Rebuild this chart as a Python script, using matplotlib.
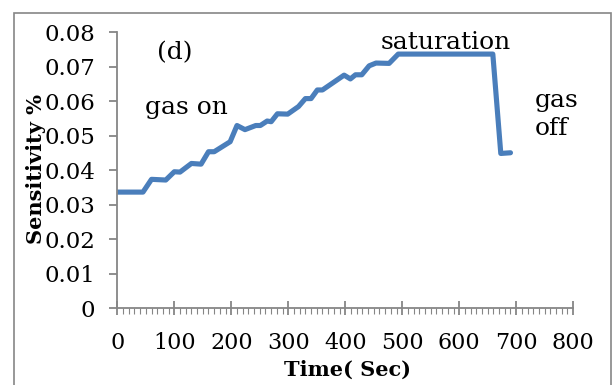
import matplotlib.pyplot as plt
from matplotlib.patches import Rectangle
from matplotlib.ticker import MultipleLocator

# time (s) and sensitivity (%)
time_sec = [0, 45, 60, 85, 100, 110, 130, 147, 160, 170, 198, 210, 224, 243, 251,
            263, 270, 281, 299, 318, 330, 340, 351, 360, 398, 409, 418, 429, 442,
            454, 477, 493, 659, 673, 690]
sensitivity = [0.0337, 0.0337, 0.0374, 0.0372, 0.0396, 0.0395, 0.0420, 0.0418,
               0.0454, 0.0454, 0.0483, 0.0530, 0.0518, 0.0530, 0.0530, 0.0543,
               0.0541, 0.0564, 0.0563, 0.0585, 0.0608, 0.0608, 0.0633, 0.0633,
               0.0676, 0.0665, 0.0677, 0.0677, 0.0703, 0.0711, 0.0710, 0.0737,
               0.0737, 0.0449, 0.0451]
y_ticks = [0, 0.01, 0.02, 0.03, 0.04, 0.05, 0.06, 0.07, 0.08]
y_labels = ['0', '0.01', '0.02', '0.03', '0.04', '0.05', '0.06', '0.07', '0.08']

plt.rcParams['font.family'] = ['DejaVu Serif']
grey = '#868686'

fig = plt.figure(figsize=(6.13, 3.85), dpi=100)
ax = fig.add_axes([0.1914, 0.199, 0.7436, 0.717])

# outer chart border
fig.patches.append(Rectangle((14 / 613, -0.05), 597 / 613, 1 - 13 / 385 + 0.05,
                             transform=fig.transFigure, fill=False,
                             edgecolor=grey, linewidth=1.2))

ax.plot(time_sec, sensitivity, color='#4a7ebb', linewidth=3.7,
        solid_joinstyle='round', solid_capstyle='round')

ax.set_xlim(0, 800)
ax.set_ylim(0, 0.08)
ax.xaxis.set_major_locator(MultipleLocator(100))
ax.xaxis.set_minor_locator(MultipleLocator(10))
ax.set_yticks(y_ticks)
ax.set_yticklabels(y_labels)

for s in ['top', 'right']:
    ax.spines[s].set_visible(False)
for s in ['left', 'bottom']:
    ax.spines[s].set_color(grey)
    ax.spines[s].set_linewidth(1.3)

ax.tick_params(axis='x', which='major', direction='inout', length=10, width=1.3,
               color=grey, labelsize=16, pad=12)
ax.tick_params(axis='x', which='minor', direction='out', length=4, width=0.8, color=grey)
ax.tick_params(axis='y', which='major', direction='out', length=6, width=1.3,
               color=grey, labelsize=16.5, pad=10)

ax.set_xlabel('Time( Sec)', fontsize=15, fontweight='bold', va='center')
ax.xaxis.set_label_coords(0.504, -0.224)
ax.set_ylabel('Sensitivity %', fontsize=15, fontweight='bold', va='center')
ax.yaxis.set_label_coords(-0.178, 0.505)

ax.text(100, 0.074, '(d)', fontsize=18, ha='center', va='center')
ax.text(121, 0.0583, 'gas on', fontsize=18, ha='center', va='center')
ax.text(577, 0.0772, 'saturation', fontsize=18, ha='center', va='center')
ax.text(733, 0.0562, 'gas\noff', fontsize=18, ha='left', va='center', linespacing=1.3)

fig.savefig('out.png', dpi=100)
